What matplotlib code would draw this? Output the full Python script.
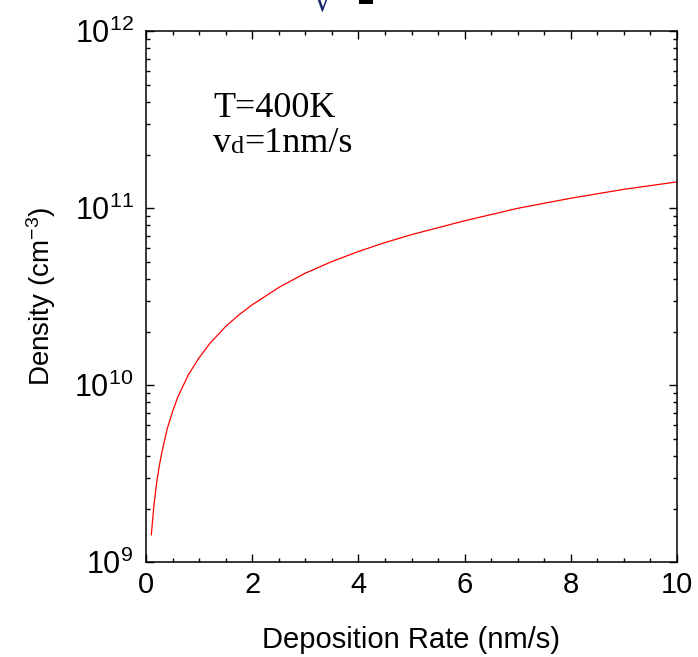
import matplotlib
matplotlib.use("Agg")
import matplotlib.pyplot as plt
from matplotlib.patches import Rectangle
from matplotlib.ticker import FixedLocator, MultipleLocator, LogLocator, NullFormatter

# ----------------------------
# Data
# ----------------------------
rate = [0.1, 0.15, 0.2, 0.25, 0.3, 0.4, 0.5, 0.6, 0.8, 1.0, 1.2, 1.5, 1.75, 2.0, 2.5,
        3.0, 3.5, 4.0, 4.5, 5.0, 6.0, 7.0, 8.0, 9.0, 10.0]
density = [1.43e9, 2.1e9, 2.8e9, 3.5e9, 4.2e9, 5.7e9, 7.1e9, 8.6e9, 1.15e10, 1.43e10,
           1.72e10, 2.15e10, 2.5e10, 2.85e10, 3.57e10, 4.3e10, 5.0e10, 5.7e10, 6.4e10,
           7.1e10, 8.5e10, 1.0e11, 1.14e11, 1.28e11, 1.41e11]

x_ticks = [0, 2, 4, 6, 8, 10]
y_ticks = [1e9, 1e10, 1e11, 1e12]
y_tick_labels = [r"$\mathregular{10^{9}}$", r"$\mathregular{10^{10}}$",
                 r"$\mathregular{10^{11}}$", r"$\mathregular{10^{12}}$"]

plt.rcParams["font.family"] = ["Liberation Sans", "DejaVu Sans"]
plt.rcParams["mathtext.default"] = "regular"

W, H = 698, 657
fig = plt.figure(figsize=(W / 100, H / 100), dpi=100)
ax = fig.add_axes([146 / W, (H - 562.3) / H, 531 / W, 531 / H])

ax.plot(rate, density, color="red", lw=0.9)

ax.set_yscale("log")
ax.set_xlim(0, 10)
ax.set_ylim(1e9, 1e12)

ax.xaxis.set_major_locator(FixedLocator(x_ticks))
ax.xaxis.set_minor_locator(MultipleLocator(0.5))
ax.set_xticklabels([str(t) for t in x_ticks])
ax.yaxis.set_major_locator(FixedLocator(y_ticks))
ax.yaxis.set_minor_locator(LogLocator(base=10, subs=range(2, 10)))
ax.yaxis.set_minor_formatter(NullFormatter())
ax.set_yticklabels(y_tick_labels)

ax.tick_params(which="both", direction="in", top=True, right=True, width=1.0, color="black")
ax.tick_params(which="major", length=5.8)
ax.tick_params(which="minor", length=2.9)
ax.tick_params(axis="x", which="major", labelsize=21, pad=6)
ax.tick_params(axis="y", which="major", labelsize=22, pad=9)

for sp in ax.spines.values():
    sp.set_linewidth(1.1)
    sp.set_color("black")

ax.set_xlabel("Deposition Rate (nm/s)", fontsize=21, labelpad=20)
ax.set_ylabel(r"Density (cm$^{-3}$)", fontsize=20, labelpad=12)

# annotation text (serif)
serif = ["Liberation Serif", "DejaVu Serif"]
ax.text(0.126, 0.839, "T=400K", transform=ax.transAxes, fontsize=26,
        family=serif, va="baseline", ha="left")
v = ax.text(0.126, 0.773, "v", transform=ax.transAxes, fontsize=26,
            family=serif, va="baseline", ha="left")
d = ax.annotate("d", xy=(1, 0), xycoords=v, fontsize=19, family=serif,
                va="bottom", ha="left", xytext=(0, 1.5), textcoords="offset points")
ax.annotate("=1nm/s", xy=(1, 0), xycoords=d, fontsize=26, family=serif,
            va="bottom", ha="left", xytext=(0, -1.5), textcoords="offset points")

# clipped fragments of something above the figure
fig.text(323 / W, (H - 16) / H, "\u221a", fontsize=22, ha="center", va="bottom",
         family=["DejaVu Sans"], color="#1a2a6a")
fig.patches.append(Rectangle((359 / W, (H - 3.5) / H), 14 / W, 3.5 / H,
                             transform=fig.transFigure, facecolor="black", lw=0))

fig.savefig("out.png", dpi=100)
